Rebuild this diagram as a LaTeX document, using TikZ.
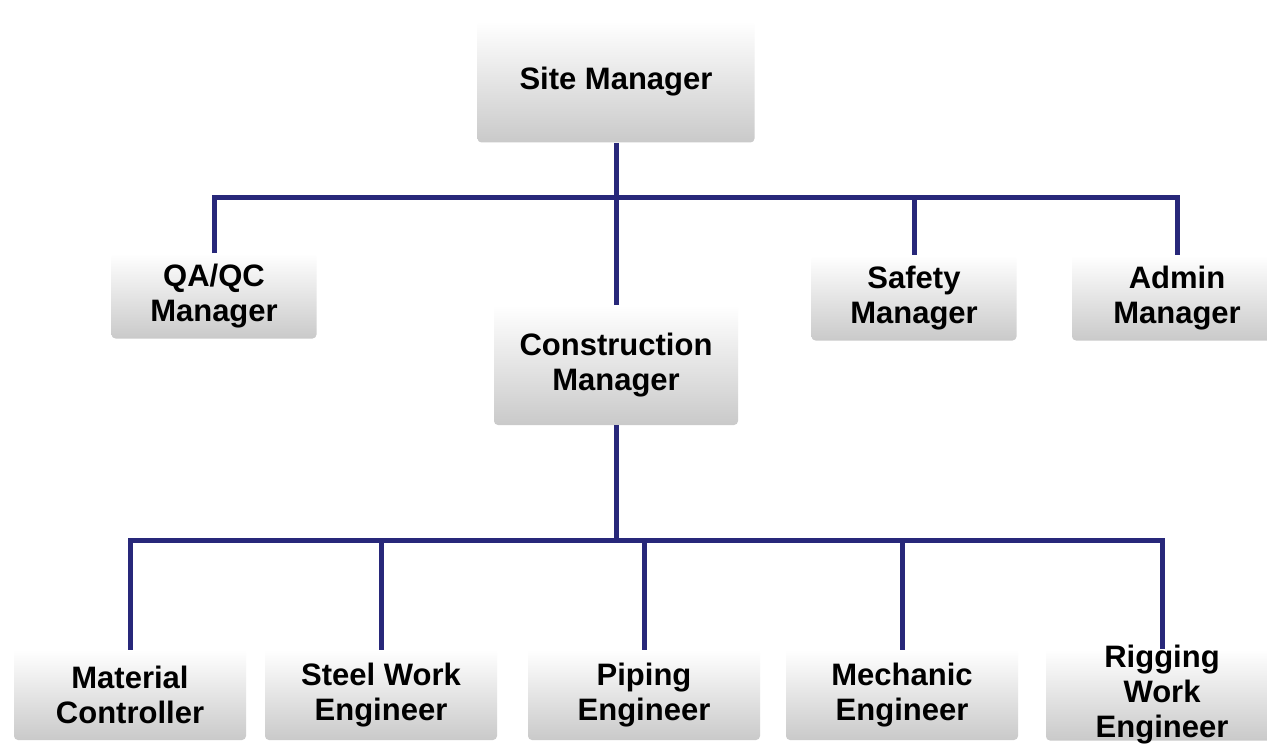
\documentclass[tikz,border=0pt]{standalone}
\usepackage{fontspec}
\setmainfont{Liberation Sans}
\usetikzlibrary{positioning}
\definecolor{orgnavy}{RGB}{40,40,122}
\tikzset{
    org-box/.style = {rectangle, rounded corners=2pt, top color=white, bottom color=gray!42, inner sep=0pt, align=center, font=\fontsize{15.5}{17.5}\selectfont\bfseries},
    top-box/.style = {org-box, minimum width=102.5pt, minimum height=42.5pt},
    low-box/.style = {org-box, minimum width=116pt, minimum height=45pt},
    org-line/.style = {draw=orgnavy, line width=2.5pt},
}

\begin{document}
\begin{tikzpicture}[x=0.5pt, y=-0.5pt]
\path[use as bounding box, fill=white] (0,0) rectangle (1267,748);

% head and managers
\node[org-box, minimum width=138.5pt, minimum height=60.5pt] (site) at (616,82) {Site Manager};
\node[org-box, minimum width=122pt, minimum height=60pt] (con) at (616,365) {Construction\\Manager};
\node[top-box] (qa) at (214,296) {QA/QC\\Manager};
\node[top-box] (safety) at (914,298) {Safety\\Manager};
\node[top-box, minimum width=105pt] (admin) at (1177,298) {Admin\\Manager};

% engineers
\node[low-box] (mat) at (130,695) {Material\\Controller};
\node[low-box] (steel) at (381,695) {Steel Work\\Engineer};
\node[low-box] (piping) at (644,695) {Piping\\Engineer};
\node[low-box] (mech) at (902,695) {Mechanic\\Engineer};
\node[low-box, inner ysep=-2pt] (rig) at (1162,695) {Rigging\\Work\\Engineer};

\coordinate (top-bus) at (616,198);
\coordinate (low-bus) at (616,540);

\draw[org-line] (site.south) -- (con.north);
\draw[org-line] (qa.north) |- (top-bus) -| (admin.north);
\draw[org-line] (top-bus) -| (safety.north);

\draw[org-line] (con.south) -- (low-bus);
\draw[org-line] (mat.north) |- (low-bus) -| (rig.north);
\foreach \n in {steel,piping,mech}
    \draw[org-line] (low-bus) -| (\n.north);
\end{tikzpicture}
\end{document}
